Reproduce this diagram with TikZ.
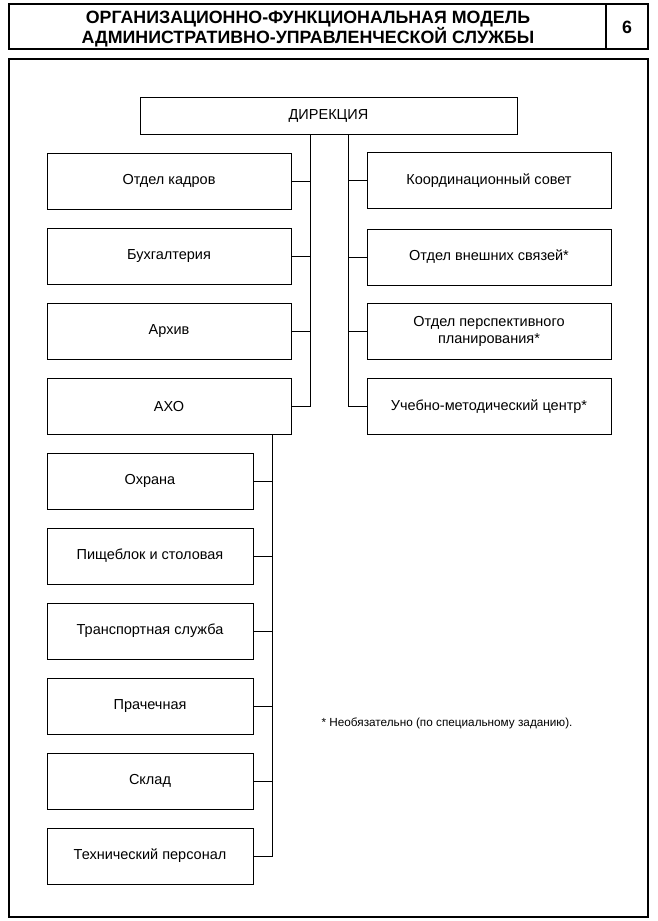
\documentclass[tikz,border=0pt]{standalone}
\usepackage{fontspec}
\setmainfont{Liberation Sans}
\begin{document}
\begin{tikzpicture}[x=1pt,y=-1pt,
  box/.style={draw,line width=0.9pt,inner sep=2pt,align=center,font=\fontsize{14.5}{17.5}\selectfont},
  lbox/.style={box,minimum width=244pt,minimum height=56pt},
  sbox/.style={box,minimum width=206pt,minimum height=56pt},
  conn/.style={line width=0.9pt},
  frame/.style={line width=1.1pt}]
\useasboundingbox (0,0) rectangle (658,921);
% header
\draw[frame] (9,4) rectangle (648,49);
\draw[frame] (606,4) -- (606,49);
\node[font=\bfseries\fontsize{17.8}{17}\selectfont,align=center,inner sep=0pt] (title) at (308,29)
  {ОРГАНИЗАЦИОННО-ФУНКЦИОНАЛЬНАЯ МОДЕЛЬ\\АДМИНИСТРАТИВНО-УПРАВЛЕНЧЕСКОЙ СЛУЖБЫ};
\node[font=\bfseries\fontsize{17.8}{17}\selectfont] (num) at (627,27) {6};
% main frame
\draw[frame] (9,59) rectangle (648,917);
% boxes
\node[box,minimum width=377pt,minimum height=37pt] (dir) at (328.5,115.5) {ДИРЕКЦИЯ};
\node[lbox] (kadry) at (169,181) {Отдел кадров};
\node[lbox] (buh) at (169,256) {Бухгалтерия};
\node[lbox] (arh) at (169,331) {Архив};
\node[lbox] (axo) at (169,406.5) {АХО};
\node[lbox] (koord) at (489,180.5) {Координационный совет};
\node[lbox] (vnesh) at (489,257) {Отдел внешних связей*};
\node[lbox] (persp) at (489,331.5) {Отдел перспективного\\планирования*};
\node[lbox] (umc) at (489,406.5) {Учебно-методический центр*};
\node[sbox] (ohr) at (150,481) {Охрана};
\node[sbox] (pish) at (150,556) {Пищеблок и столовая};
\node[sbox] (trans) at (150,631) {Транспортная служба};
\node[sbox] (prach) at (150,706) {Прачечная};
\node[sbox] (sklad) at (150,781) {Склад};
\node[sbox] (tech) at (150,856) {Технический персонал};
% trunk coordinates
\coordinate (lx) at (310,0);
\coordinate (rx) at (348,0);
\coordinate (sx) at (272,0);
% left trunk
\draw[conn] (dir.south -| lx) |- (axo.east);
\foreach \n in {kadry,buh,arh} \draw[conn] (\n.east) -- (\n.east -| lx);
% right trunk
\draw[conn] (dir.south -| rx) |- (umc.west);
\foreach \n in {koord,vnesh,persp} \draw[conn] (\n.west) -- (\n.west -| rx);
% AXO subtree
\draw[conn] (axo.south -| sx) |- (tech.east);
\foreach \n in {ohr,pish,trans,prach,sklad} \draw[conn] (\n.east) -- (\n.east -| sx);
% footnote
\node[anchor=west,font=\fontsize{11.75}{13}\selectfont] (note) at (318,723) {* Необязательно (по специальному заданию).};
\end{tikzpicture}
\end{document}
